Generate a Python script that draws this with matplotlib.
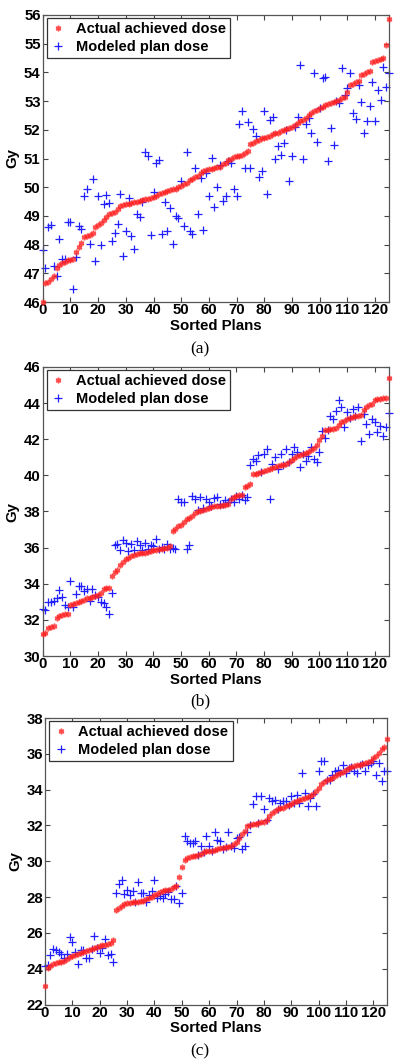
import matplotlib
matplotlib.use("Agg")
import matplotlib.pyplot as plt
import numpy as np

plt.rcParams['font.family'] = ['Liberation Sans', 'DejaVu Sans']

# ---------------- data ----------------
actual_a = [46.0, 46.65, 46.7, 46.8, 46.9, 47.2, 47.3, 47.35, 47.4, 47.45,
            47.45, 47.5, 47.75, 47.9, 48.05, 48.25, 48.3, 48.35, 48.4, 48.6,
            48.7, 48.75, 48.85, 48.95, 49.05, 49.1, 49.15, 49.25, 49.35, 49.38,
            49.4, 49.42, 49.45, 49.47, 49.5, 49.52, 49.55, 49.58, 49.6, 49.62,
            49.65, 49.7, 49.75, 49.8, 49.85, 49.88, 49.9, 49.92, 49.95, 50.0,
            50.05, 50.1, 50.15, 50.25, 50.3, 50.35, 50.4, 50.5, 50.55, 50.6,
            50.62, 50.65, 50.68, 50.7, 50.72, 50.8, 50.85, 50.95, 51.0, 51.05,
            51.07, 51.1, 51.12, 51.2, 51.25, 51.5, 51.55, 51.6, 51.65, 51.7,
            51.72, 51.75, 51.8, 51.85, 51.88, 51.9, 51.95, 52.0, 52.02, 52.05,
            52.1, 52.15, 52.25, 52.3, 52.35, 52.4, 52.5, 52.6, 52.65, 52.7,
            52.75, 52.8, 52.85, 52.9, 52.95, 52.97, 53.0, 53.05, 53.1, 53.15,
            53.3, 53.55, 53.6, 53.65, 53.7, 53.9, 53.95, 54.0, 54.05, 54.35,
            54.4, 54.42, 54.45, 54.5, 54.95, 55.85]
modeled_a = [47.8, 47.17, 48.6, 48.69, 47.24, 46.9, 48.2, 47.5, 47.5, 48.78,
             48.78, 46.45, 47.58, 48.66, 48.55, 49.69, 49.92, 48.02, 50.27, 47.44,
             49.69, 48.0, 49.42, 49.73, 49.45, 48.14, 48.4, 48.72, 49.77, 47.62,
             48.49, 49.62, 48.31, 47.85, 49.07, 48.95, 49.48, 51.21, 51.09, 48.34,
             49.85, 50.84, 50.95, 48.37, 49.48, 48.49, 49.27, 48.02, 48.99, 48.92,
             50.2, 48.64, 51.21, 48.49, 48.37, 50.66, 49.07, 50.31, 48.52, 50.5,
             49.69, 51.01, 49.3, 50.0, 50.78, 49.53, 49.71, 50.9, 50.84, 49.94,
             49.69, 52.19, 52.67, 50.66, 52.26, 50.66, 52.02, 51.77, 50.35, 50.58,
             52.64, 49.77, 52.35, 52.45, 50.98, 51.42, 51.13, 51.55, 52.0, 50.2,
             51.1, 52.1, 52.45, 54.26, 50.97, 52.2, 52.4, 51.88, 53.97, 51.56,
             52.75, 53.8, 53.84, 50.91, 52.07, 51.46, 53.0, 52.92, 54.17, 53.2,
             53.45, 53.97, 52.58, 52.37, 53.56, 52.98, 51.88, 52.31, 52.83, 53.68,
             52.29, 53.37, 53.04, 54.2, 53.48, 53.97]

actual_b = [31.2, 31.3, 31.55, 31.6, 31.65, 32.1, 32.2, 32.25, 32.3, 32.35,
            32.8, 32.9, 32.95, 33.0, 33.05, 33.1, 33.2, 33.22, 33.25, 33.3,
            33.4, 33.5, 33.7, 33.75, 33.78, 34.45, 34.65, 34.75, 35.05, 35.2,
            35.35, 35.45, 35.55, 35.6, 35.65, 35.68, 35.7, 35.72, 35.75, 35.8,
            35.85, 35.88, 35.9, 35.95, 35.97, 36.0, 36.1, 36.9, 37.05, 37.2,
            37.25, 37.4, 37.6, 37.65, 37.75, 37.9, 38.0, 38.05, 38.1, 38.15,
            38.2, 38.25, 38.28, 38.3, 38.32, 38.35, 38.38, 38.4, 38.7, 38.8,
            38.85, 38.9, 38.92, 39.35, 39.4, 39.5, 40.05, 40.1, 40.15, 40.2,
            40.25, 40.3, 40.35, 40.4, 40.45, 40.5, 40.55, 40.6, 40.65, 40.75,
            40.85, 40.95, 41.05, 41.15, 41.2, 41.25, 41.3, 41.4, 41.5, 41.7,
            41.95, 42.2, 42.5, 42.52, 42.55, 42.58, 42.6, 42.8, 42.95, 43.0,
            43.1, 43.2, 43.25, 43.28, 43.3, 43.35, 43.6, 43.8, 43.9, 43.95,
            44.2, 44.22, 44.25, 44.28, 44.3, 45.4]
modeled_b = [32.6, 32.55, 32.98, 32.98, 33.07, 33.2, 33.67, 33.26, 32.8, 32.74,
             34.15, 32.74, 33.41, 33.9, 33.9, 33.6, 33.72, 33.04, 33.72, 33.35,
             33.26, 32.98, 32.93, 32.74, 32.3, 33.48, 36.13, 36.22, 35.85, 36.41,
             36.26, 35.81, 36.22, 35.85, 36.37, 36.13, 35.89, 36.26, 35.94, 36.13,
             36.1, 36.5, 35.94, 36.04, 35.94, 36.22, 35.94, 36.0, 35.94, 38.69,
             38.5, 38.5, 35.94, 36.13, 38.87, 38.69, 38.1, 38.78, 38.2, 38.69,
             38.54, 38.3, 38.72, 38.78, 38.41, 38.4, 38.65, 38.54, 38.69, 38.54,
             38.85, 38.69, 38.9, 38.65, 38.78, 40.57, 40.9, 40.81, 41.13, 40.2,
             41.19, 41.46, 38.69, 40.63, 41.0, 40.35, 41.19, 40.6, 41.46, 40.72,
             41.19, 41.56, 41.28, 40.44, 41.19, 40.81, 41.09, 41.56, 40.9, 40.72,
             41.28, 42.48, 42.06, 42.5, 43.31, 43.13, 43.59, 44.15, 43.78, 42.67,
             43.5, 43.2, 43.68, 43.3, 43.78, 41.93, 43.4, 42.85, 42.3, 43.13,
             42.94, 42.39, 42.76, 42.2, 42.67, 43.44]

actual_c = [23.05, 24.05, 24.15, 24.25, 24.3, 24.35, 24.4, 24.45, 24.55, 24.65,
            24.7, 24.75, 24.8, 24.9, 24.95, 25.0, 25.05, 25.1, 25.15, 25.2,
            25.25, 25.3, 25.35, 25.4, 25.45, 25.6, 27.25, 27.4, 27.5, 27.6,
            27.65, 27.68, 27.7, 27.72, 27.74, 27.76, 27.8, 27.9, 27.95, 28.0,
            28.1, 28.15, 28.3, 28.35, 28.38, 28.4, 28.45, 28.55, 28.6, 29.1,
            29.7, 30.05, 30.2, 30.25, 30.3, 30.32, 30.35, 30.4, 30.5, 30.55,
            30.58, 30.6, 30.65, 30.7, 30.72, 30.75, 30.78, 30.8, 30.85, 30.95,
            31.05, 31.3, 31.5, 31.7, 31.95, 32.05, 32.08, 32.1, 32.15, 32.18,
            32.2, 32.3, 32.5, 32.7, 32.8, 32.9, 32.95, 33.0, 33.1, 33.15,
            33.2, 33.3, 33.35, 33.4, 33.45, 33.55, 33.6, 33.65, 33.75, 33.9,
            34.1, 34.3, 34.45, 34.55, 34.6, 34.65, 34.75, 34.85, 34.95, 35.0,
            35.1, 35.2, 35.25, 35.3, 35.35, 35.4, 35.45, 35.5, 35.55, 35.6,
            35.75, 35.9, 36.05, 36.25, 36.4, 36.8]
modeled_c = [24.13, 24.2, 24.75, 25.12, 25.03, 24.93, 24.84, 24.62, 24.84, 25.77,
             25.49, 24.93, 24.25, 25.03, 25.06, 24.62, 24.62, 25.1, 25.8, 25.17,
             24.88, 25.17, 25.68, 24.75, 24.8, 24.38, 28.22, 28.74, 28.93, 28.15,
             28.41, 28.09, 28.33, 27.75, 28.84, 28.22, 28.22, 27.72, 28.09, 28.33,
             28.93, 27.96, 28.04, 27.96, 28.15, 28.28, 27.91, 27.91, 28.6, 27.68,
             28.22, 31.4, 31.12, 31.02, 31.02, 31.12, 30.35, 30.84, 30.5, 31.43,
             30.87, 30.6, 31.62, 31.2, 31.12, 30.69, 30.8, 31.62, 30.85, 30.74,
             31.3, 31.35, 30.69, 30.87, 31.62, 32.0, 33.22, 33.63, 32.15, 33.67,
             32.92, 32.3, 33.53, 33.35, 33.44, 32.9, 33.26, 33.35, 33.35, 33.15,
             33.63, 33.26, 33.72, 33.26, 34.93, 33.81, 33.07, 33.53, 33.75, 33.11,
             35.02, 35.58, 35.58, 34.56, 34.56, 34.84, 35.02, 35.12, 34.95, 35.4,
             34.93, 35.2, 35.25, 35.02, 34.93, 35.4, 35.45, 35.02, 35.4, 35.49,
             35.6, 34.84, 35.49, 34.47, 35.02, 35.02]

panel_letters = ['(a)', '(b)', '(c)']
y_limits = [(46, 56), (30, 46), (22, 38)]
y_steps = [1, 2, 2]
x_ticks = list(range(0, 121, 10))
legend_labels = ['Actual achieved dose', 'Modeled plan dose']
x_label = 'Sorted Plans'
y_label = 'Gy'

# ---------------- layout ----------------
W, H = 400, 1064
fig = plt.figure(figsize=(W / 100, H / 100), dpi=100)

# (left, top, right, bottom) in pixels
boxes = [(42.7, 15, 389, 302), (42.7, 367, 388.5, 656), (45, 718, 387, 1004.5)]
caption_y = [349, 701, 1051]

actuals = [actual_a, actual_b, actual_c]
modeleds = [modeled_a, modeled_b, modeled_c]

for k in range(3):
    l, t, r, b = boxes[k]
    ax = fig.add_axes([l / W, 1 - b / H, (r - l) / W, (b - t) / H])
    xs = np.arange(len(actuals[k]))
    ax.plot(xs, actuals[k], linestyle='none', marker=(6, 2, 0), color='#ff2020',
            markersize=4.0, markeredgewidth=1.1, alpha=0.8, clip_on=False,
            label=legend_labels[0], zorder=3)
    ax.plot(xs, modeleds[k], linestyle='none', marker='+', color='#2020ff',
            markersize=6.0, markeredgewidth=0.9, clip_on=False,
            label=legend_labels[1], zorder=2)
    ax.set_xlim(0, 125)
    lo, hi = y_limits[k]
    ax.set_ylim(lo, hi)
    ax.set_xticks(x_ticks)
    ax.set_yticks(np.arange(lo, hi + 0.01, y_steps[k]))
    ax.tick_params(direction='in', length=3.5, width=0.8, top=True, right=True,
                   colors='#444444', labelcolor='black', labelsize=10.8)
    ax.tick_params(axis='x', pad=1.0)
    ax.tick_params(axis='y', pad=1.5)
    for lab in ax.get_xticklabels() + ax.get_yticklabels():
        lab.set_fontweight('bold')
    for sp in ax.spines.values():
        sp.set_color('#555555')
        sp.set_linewidth(0.9)
    ax.set_xlabel(x_label, fontsize=10.8, fontweight='bold', labelpad=1)
    ax.set_ylabel(y_label, fontsize=10.8, fontweight='bold', labelpad=3)
    leg = ax.legend(loc='upper left', bbox_to_anchor=(4 / (r - l), 1 - 3 / (b - t)),
                    borderaxespad=0, fancybox=False, framealpha=1,
                    edgecolor='#333333', handlelength=1.0, handletextpad=0.7,
                    borderpad=0.3, labelspacing=0.25,
                    prop={'weight': 'bold', 'size': 10.5})
    leg.get_frame().set_linewidth(0.9)
    fig.text(0.5, 1 - caption_y[k] / H, panel_letters[k], ha='center', va='center',
             fontsize=12.5, family=['Liberation Serif', 'DejaVu Serif'])

fig.savefig('out.png', dpi=100)
